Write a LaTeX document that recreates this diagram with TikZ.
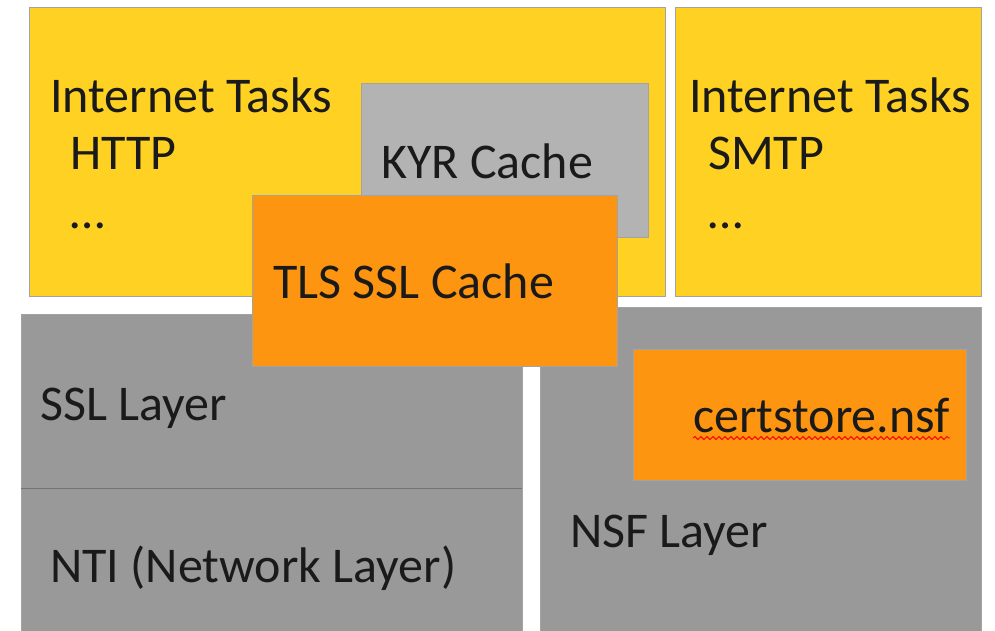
\documentclass[tikz,border=0pt]{standalone}
\usepackage{fontspec}
\setmainfont{Carlito}
\usepackage{tikz}
\usetikzlibrary{calc,decorations.pathmorphing}

\definecolor{taskyellow}{HTML}{FED122}
\definecolor{cacheorange}{HTML}{FD9510}
\definecolor{kyrgray}{HTML}{B3B3B3}
\definecolor{layergray}{HTML}{999999}
\definecolor{boxline}{HTML}{A3A3A3}
\definecolor{ink}{HTML}{1A1A1A}

\tikzset{
  block/.style={draw=boxline, line width=1pt, inner sep=0pt, anchor=north west},
  txt/.style={anchor=base west, inner sep=0pt, text=ink, font=\fontsize{50}{60}\selectfont}
}

\begin{document}
\begin{tikzpicture}[x=1pt,y=-1pt]
  \clip (0,0) rectangle (995,630);
  \fill[white] (0,0) rectangle (995,630);

  % internet task blocks
  \node[block, fill=taskyellow, minimum width=636pt, minimum height=289pt] (tasks_a) at (29,7) {};
  \node[block, fill=taskyellow, minimum width=306pt, minimum height=289pt] (tasks_b) at (675,7) {};
  \node[block, fill=kyrgray, minimum width=287pt, minimum height=154pt] (kyr) at (361,83) {};

  % layers underneath
  \node[block, fill=layergray, minimum width=501pt, minimum height=330pt] (ssl) at (21,314) {};
  \node[block, fill=layergray, minimum width=441pt, minimum height=330pt] (nsf) at (540,307) {};
  \draw[draw=gray!90!black, line width=1pt] (21,488) -- (522,488);

  % caches on top
  \node[block, fill=cacheorange, minimum width=365pt, minimum height=171pt] (tls) at (252,195) {};
  \node[block, fill=cacheorange, minimum width=333pt, minimum height=131pt] (certbox) at (633,349) {};

  % labels
  \node[txt] (t_a1) at (50,112) {Internet Tasks};
  \node[txt] (t_a2) at (70,169) {HTTP};
  \node[txt] (t_a3) at (70,228) {\dots};
  \node[txt] (t_b1) at (689,112) {Internet Tasks};
  \node[txt] (t_b2) at (708,169) {SMTP};
  \node[txt] (t_b3) at (708,228) {\dots};
  \node[txt] (t_kyr) at (381,178) {KYR Cache};
  \node[txt] (t_tls) at (273,298) {TLS SSL Cache};
  \node[txt] (t_ssl) at (40,420) {SSL Layer};
  \node[txt] (t_nti) at (50,582) {NTI (Network Layer)};
  \node[txt] (t_nsf) at (570,547) {NSF Layer};
  \node[txt] (cert) at (693,432) {certstore.nsf};
  \draw[red, line width=0.9pt, decorate, decoration={snake, amplitude=1.5pt, segment length=6pt}]
    ([yshift=-6pt]cert.base west) -- ([yshift=-6pt]cert.base east);
\end{tikzpicture}
\end{document}
